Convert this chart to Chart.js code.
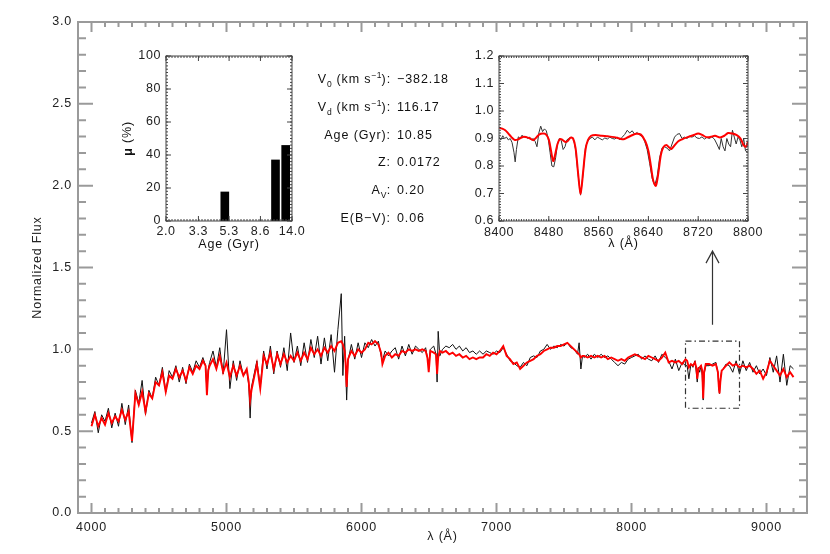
<!DOCTYPE html>
<html>
<head>
<meta charset="utf-8">
<script src="https://cdn.jsdelivr.net/npm/chart.js@4.4.0/dist/chart.umd.min.js"></script>
<style>
  html, body { margin: 0; padding: 0; background: #fff; }
  #wrap { position: relative; width: 830px; height: 554px; overflow: hidden;
          font-family: "Liberation Sans", Arial, sans-serif; }
  canvas { position: absolute; }
  #main { left: 0; top: 0; }
  #ages { left: 100px; top: 40px; }
  #zoom { left: 450px; top: 40px; }
  .plab, .pval { position: absolute; font-size: 12.5px; letter-spacing: 0.9px;
                 line-height: 16px; color: #111; white-space: nowrap; }
  .plab { right: 439px; text-align: right; }
  .pval { left: 397px; }
  .plab sub, .plab sup { font-size: 8.5px; line-height: 0; letter-spacing: 0.2px; }
</style>
</head>
<body>
<div id="wrap">
  <canvas id="main" width="830" height="554"></canvas>
  <canvas id="ages" width="210" height="220"></canvas>
  <canvas id="zoom" width="320" height="220"></canvas>
</div>
<script>
// ---- main spectrum (wavelength in A, normalized flux) ----
const mainWave = [
  4000, 4025, 4050, 4075, 4100, 4125, 4150, 4175,
  4200, 4225, 4250, 4275, 4300, 4325, 4350, 4375,
  4400, 4425, 4450, 4475, 4500, 4525, 4550, 4575,
  4600, 4625, 4650, 4675, 4700, 4725, 4750, 4775,
  4800, 4825, 4845, 4855, 4865, 4875, 4900, 4925, 4950, 4975,
  5000, 5025, 5050, 5075, 5100, 5125, 5150, 5165, 5175, 5185,
  5200, 5225, 5250, 5275, 5300, 5325, 5350, 5375,
  5400, 5425, 5450, 5475, 5500, 5525, 5550, 5575,
  5600, 5625, 5650, 5675, 5700, 5725, 5750, 5775,
  5800, 5825, 5850, 5862, 5875, 5882, 5890, 5900, 5925, 5950, 5975,
  6000, 6025, 6050, 6075, 6100, 6125, 6145, 6155, 6175,
  6200, 6225, 6250, 6275, 6300, 6325, 6350, 6375,
  6400, 6425, 6450, 6475, 6488, 6498, 6510, 6535, 6552, 6560, 6568, 6580,
  6600, 6625, 6650, 6675, 6700, 6725, 6750, 6775,
  6800, 6825, 6850, 6875, 6900, 6925, 6950, 6975,
  7000, 7025, 7050, 7075, 7100, 7125, 7150, 7175,
  7200, 7225, 7250, 7275, 7300, 7325, 7350, 7375,
  7400, 7425, 7450, 7475, 7500, 7525, 7550, 7575,
  7600, 7612, 7625, 7637, 7650, 7675, 7700, 7725, 7750, 7775,
  7800, 7825, 7850, 7875, 7900, 7925, 7950, 7975,
  8000, 8025, 8050, 8075, 8100, 8125, 8150, 8175,
  8200, 8225, 8250, 8275, 8300, 8325, 8350, 8375,
  8400, 8412, 8425, 8440, 8455, 8470, 8480, 8487, 8495, 8505, 8515, 8524, 8531, 8538, 8550, 8575,
  8600, 8625, 8640, 8647, 8652, 8658, 8668, 8680, 8700, 8725, 8750, 8775,
  8800, 8825, 8850, 8875, 8900, 8925, 8950, 8975,
  9000, 9025, 9050, 9075, 9100, 9125, 9150, 9175, 9200
];
// observed (black)
const mainObs = [
  0.55, 0.62, 0.49, 0.60, 0.56, 0.64, 0.52, 0.61,
  0.53, 0.67, 0.54, 0.66, 0.43, 0.75, 0.67, 0.81,
  0.60, 0.75, 0.70, 0.83, 0.78, 0.89, 0.74, 0.87,
  0.83, 0.90, 0.80, 0.89, 0.79, 0.91, 0.86, 0.93,
  0.89, 0.95, 0.90, 0.74, 0.88, 0.92, 0.99, 0.89, 1.01, 0.85,
  1.12, 0.76, 0.93, 0.81, 0.93, 0.84, 0.87, 0.78, 0.58, 0.77,
  0.83, 0.93, 0.77, 0.99, 0.88, 1.02, 0.85, 0.99,
  0.89, 1.01, 0.87, 1.10, 0.92, 1.02, 0.90, 1.04,
  0.92, 1.06, 0.95, 1.08, 0.91, 1.07, 0.93, 1.09,
  0.86, 1.12, 1.34, 0.84, 1.08, 0.90, 0.69, 0.93, 1.03, 0.94, 1.04,
  0.95, 1.04, 1.01, 1.06, 1.02, 1.05, 0.96, 0.93, 0.99,
  0.96, 0.99, 1.01, 0.94, 1.02, 0.96, 1.03, 0.97,
  1.02, 1.00, 0.98, 1.01, 0.95, 0.91, 1.00, 1.02, 0.97, 0.80, 1.11, 0.96,
  1.00, 1.02, 1.01, 1.03, 1.00, 1.02, 0.99, 1.01,
  0.98, 0.99, 0.97, 0.99, 0.97, 0.99, 0.98, 0.97,
  0.99, 0.98, 1.01, 0.97, 0.93, 0.92, 0.90, 0.89,
  0.92, 0.90, 0.95, 0.96, 0.95, 0.99, 1.00, 1.03,
  1.00, 1.02, 1.01, 1.03, 1.02, 1.04, 1.01, 1.00,
  0.97, 1.04, 0.88, 0.96, 0.95, 0.97, 0.94, 0.97, 0.95, 0.97,
  0.95, 0.96, 0.94, 0.92, 0.90, 0.92, 0.91, 0.94,
  0.95, 0.96, 0.97, 0.94, 0.96, 0.94, 0.93, 0.96,
  0.92, 0.97, 0.95, 0.93, 0.88, 0.94, 0.87, 0.92,
  0.90, 0.90, 0.82, 0.91, 0.89, 0.93, 0.86, 0.80, 0.89, 0.86, 0.90, 0.84, 0.69, 0.85, 0.90, 0.90,
  0.91, 0.92, 0.86, 0.76, 0.73, 0.82, 0.87, 0.88, 0.91, 0.90, 0.86, 0.93,
  0.85, 0.93, 0.87, 0.92, 0.86, 0.90, 0.85, 0.88,
  0.84, 0.95, 0.86, 0.96, 0.80, 0.97, 0.78, 0.90, 0.88
];
// best-fit model (red)
const mainFit = [
  0.53, 0.60, 0.53, 0.58, 0.54, 0.61, 0.55, 0.59,
  0.56, 0.63, 0.57, 0.62, 0.44, 0.73, 0.66, 0.74,
  0.62, 0.73, 0.70, 0.80, 0.78, 0.86, 0.74, 0.84,
  0.82, 0.88, 0.83, 0.87, 0.81, 0.89, 0.85, 0.90,
  0.88, 0.93, 0.90, 0.72, 0.87, 0.90, 0.94, 0.88, 0.96, 0.86,
  0.92, 0.83, 0.90, 0.84, 0.90, 0.84, 0.88, 0.80, 0.69, 0.75,
  0.81, 0.91, 0.76, 0.96, 0.91, 0.98, 0.88, 0.97,
  0.91, 0.97, 0.92, 0.96, 0.93, 0.98, 0.93, 0.98,
  0.94, 1.01, 0.97, 1.00, 0.96, 1.01, 0.98, 1.02,
  0.99, 1.04, 1.05, 1.03, 0.99, 0.92, 0.77, 0.94, 0.99, 0.96, 1.00,
  0.98, 1.00, 1.04, 1.03, 1.05, 1.03, 0.98, 0.91, 0.96,
  0.98, 0.95, 0.97, 0.96, 0.99, 0.98, 1.00, 0.99,
  1.00, 0.99, 1.00, 0.99, 0.95, 0.86, 0.99, 0.98, 0.97, 0.85, 0.95, 0.99,
  0.98, 0.99, 0.97, 0.98, 0.96, 0.97, 0.95, 0.96,
  0.94, 0.95, 0.94, 0.95, 0.95, 0.97, 0.96, 0.98,
  0.97, 0.99, 1.02, 0.96, 0.94, 0.91, 0.92, 0.88,
  0.90, 0.92, 0.93, 0.94, 0.96, 0.97, 0.99, 1.00,
  1.01, 1.01, 1.02, 1.02, 1.03, 1.04, 1.02, 1.00,
  0.98, 0.97, 0.95, 0.96, 0.96, 0.95, 0.96, 0.95, 0.96, 0.95,
  0.96, 0.94, 0.95, 0.94, 0.93, 0.94, 0.93, 0.95,
  0.96, 0.97, 0.96, 0.95, 0.94, 0.96, 0.95, 0.94,
  0.93, 0.95, 0.98, 0.92, 0.93, 0.92, 0.93, 0.91,
  0.94, 0.93, 0.89, 0.91, 0.90, 0.92, 0.89, 0.82, 0.88, 0.89, 0.90, 0.87, 0.70, 0.86, 0.91, 0.91,
  0.90, 0.91, 0.86, 0.77, 0.73, 0.80, 0.87, 0.88, 0.90, 0.92, 0.90, 0.91,
  0.89, 0.90, 0.89, 0.90, 0.88, 0.85, 0.87, 0.82,
  0.86, 0.93, 0.90, 0.87, 0.84, 0.88, 0.83, 0.86, 0.83
];
const mainXTicks = [4000, 5000, 6000, 7000, 8000, 9000];
const mainYTicks = [0.0, 0.5, 1.0, 1.5, 2.0, 2.5, 3.0];

// ---- age distribution inset ----
const ageGyr  = [4.96, 10.85, 12.70];
const massPct = [17.6, 37.0, 45.8];
const ageTicks = [2.0, 3.3, 5.3, 8.6, 14.0];
const pctTicks = [0, 20, 40, 60, 80, 100];

// ---- Ca triplet zoom inset ----
const zoomFitWave = [
  8400, 8405, 8410, 8415, 8420, 8425, 8430, 8435, 8440, 8445, 8450, 8455, 8460, 8465, 8470, 8475, 8480,
  8484, 8487, 8490, 8494, 8498, 8502, 8506, 8510,
  8515, 8519, 8523, 8527, 8531, 8535, 8539, 8543,
  8548, 8555, 8565, 8575, 8585, 8595, 8600, 8605,
  8612, 8620, 8628, 8635, 8640, 8644, 8648, 8652,
  8656, 8660, 8664, 8669, 8673, 8677, 8682, 8688,
  8695, 8703, 8712, 8720, 8727, 8733, 8740, 8747,
  8755, 8762, 8768, 8775, 8782, 8788, 8793, 8797,
  8800
];
const zoomFitFlux = [
  0.940, 0.936, 0.930, 0.918, 0.905, 0.895, 0.896, 0.902, 0.906, 0.904, 0.900, 0.894, 0.904, 0.915, 0.918, 0.916, 0.896,
  0.850, 0.818, 0.840, 0.880, 0.898, 0.895, 0.888, 0.890,
  0.903, 0.900, 0.865, 0.775, 0.697, 0.775, 0.860, 0.895,
  0.910, 0.913, 0.910, 0.908, 0.905, 0.899, 0.897, 0.902,
  0.910, 0.917, 0.914, 0.890, 0.855, 0.800, 0.745, 0.728,
  0.775, 0.840, 0.868, 0.876, 0.868, 0.862, 0.875, 0.890,
  0.898, 0.905, 0.912, 0.918, 0.912, 0.905, 0.906, 0.910,
  0.904, 0.910, 0.920, 0.918, 0.912, 0.900, 0.876, 0.870,
  0.890
];
const zoomObsWave = [
  8400, 8403, 8406, 8409, 8412, 8415, 8418, 8421, 8424, 8426,
  8428, 8431, 8434, 8437, 8440, 8443, 8446, 8449, 8452, 8455,
  8458, 8461, 8464, 8467, 8470, 8473, 8476, 8479, 8482, 8485,
  8488, 8491, 8494, 8497, 8500, 8503, 8506, 8509, 8512, 8516,
  8520, 8523, 8527, 8531, 8535, 8539, 8542, 8546, 8550, 8554,
  8558, 8562, 8566, 8570, 8574, 8578, 8582, 8586, 8590, 8594,
  8598, 8602, 8606, 8610, 8614, 8618, 8622, 8626, 8630, 8634,
  8638, 8642, 8646, 8650, 8654, 8658, 8662, 8666, 8670, 8674,
  8678, 8682, 8686, 8690, 8694, 8698, 8702, 8706, 8710, 8714,
  8718, 8722, 8726, 8730, 8734, 8738, 8742, 8746, 8750, 8754,
  8757, 8760, 8763, 8766, 8769, 8772, 8775, 8778, 8781, 8784,
  8787, 8790, 8793, 8796, 8800
];
const zoomObsFlux = [
  0.905, 0.895, 0.910, 0.900, 0.905, 0.895, 0.900, 0.885, 0.850, 0.815,
  0.860, 0.906, 0.900, 0.912, 0.905, 0.908, 0.900, 0.905, 0.895, 0.900,
  0.890, 0.870, 0.920, 0.945, 0.925, 0.935, 0.928, 0.900, 0.850, 0.800,
  0.797, 0.830, 0.880, 0.900, 0.892, 0.860, 0.870, 0.895, 0.900, 0.905,
  0.895, 0.860, 0.770, 0.694, 0.770, 0.870, 0.888, 0.900, 0.905, 0.895,
  0.905, 0.900, 0.895, 0.902, 0.898, 0.905, 0.900, 0.898, 0.905, 0.895,
  0.905, 0.915, 0.930, 0.920, 0.928, 0.915, 0.922, 0.912, 0.908, 0.890,
  0.860, 0.810, 0.755, 0.730, 0.760, 0.830, 0.866, 0.870, 0.865, 0.855,
  0.880, 0.905, 0.915, 0.918, 0.900, 0.905, 0.900, 0.908, 0.905, 0.910,
  0.902, 0.900, 0.906, 0.898, 0.904, 0.900, 0.906, 0.898, 0.880, 0.860,
  0.900, 0.870, 0.855, 0.900, 0.880, 0.870, 0.930, 0.905, 0.880, 0.905,
  0.895, 0.870, 0.900, 0.855, 0.850
];
const zoomXTicks = [8400, 8480, 8560, 8640, 8720, 8800];
const zoomYTicks = [0.6, 0.7, 0.8, 0.9, 1.0, 1.1, 1.2];

// fit parameters text
const paramLabels = ['V<sub>0</sub> (km s<sup>\u22121</sup>):', 'V<sub>d</sub> (km s<sup>\u22121</sup>):',
                     'Age (Gyr):', 'Z:', 'A<sub>V</sub>:', 'E(B\u2212V):'];
const paramValues = ['\u2212382.18', '116.17', '10.85', '0.0172', '0.20', '0.06'];

const FONT = '"Liberation Sans", Arial, sans-serif';

function pts(xs, ys) { return xs.map((x, i) => ({ x: x, y: ys[i] })); }
function range(a, b, step) { const out = []; for (let v = a; v <= b + 1e-9; v += step) out.push(+v.toFixed(4)); return out; }

// IDL-like box frame with inward ticks on all four sides
function frameTicks(o) {
  return {
    id: 'frameTicks',
    beforeDraw(chart) { chart.ctx.letterSpacing = o.spacing || '0px'; },
    afterDatasetsDraw(chart) {
      const { ctx, chartArea: a, scales: { x, y } } = chart;
      ctx.save();
      ctx.strokeStyle = o.color;
      ctx.lineWidth = o.width;
      ctx.strokeRect(a.left, a.top, a.right - a.left, a.bottom - a.top);
      ctx.beginPath();
      const vt = (v, len) => { const p = x.getPixelForValue(v);
        ctx.moveTo(p, a.bottom); ctx.lineTo(p, a.bottom - len);
        ctx.moveTo(p, a.top); ctx.lineTo(p, a.top + len); };
      const ht = (v, len) => { const p = y.getPixelForValue(v);
        ctx.moveTo(a.left, p); ctx.lineTo(a.left + len, p);
        ctx.moveTo(a.right, p); ctx.lineTo(a.right - len, p); };
      o.xMinor.forEach(v => vt(v, o.xLen[1]));
      o.xMajor.forEach(v => vt(v, o.xLen[0]));
      o.yMinor.forEach(v => ht(v, o.yLen[1]));
      o.yMajor.forEach(v => ht(v, o.yLen[0]));
      ctx.lineWidth = o.tickWidth;
      ctx.stroke();
      ctx.restore();
    }
  };
}

function axisOpts(min, max, ticks, fmt, fit, pad, type) {
  return {
    type: type || 'linear', min: min, max: max, offset: false,
    afterBuildTicks: s => { s.ticks = ticks.map(v => ({ value: v })); },
    afterFit: fit,
    grid: { display: false, drawTicks: false }, border: { display: false },
    ticks: { autoSkip: false, maxRotation: 0, padding: pad, color: '#222',
             font: { family: FONT, size: 12.5 }, callback: fmt }
  };
}

// ---------- main chart ----------
const boxLam = [8400, 8800], boxFlux = [0.64, 1.05];
const arrowLam = 8600, arrowFlux = [1.15, 1.60];

const mainDecor = {
  id: 'mainDecor',
  afterDraw(chart) {
    const { ctx, chartArea: a, scales: { x, y } } = chart;
    ctx.save();
    ctx.letterSpacing = '0.8px';
    ctx.fillStyle = '#222';
    ctx.font = '12.5px ' + FONT;
    ctx.textAlign = 'center';
    ctx.textBaseline = 'middle';
    ctx.fillText('\u03bb (\u00c5)', (a.left + a.right) / 2, 537);
    ctx.translate(38, (a.top + a.bottom) / 2);
    ctx.rotate(-Math.PI / 2);
    ctx.fillText('Normalized Flux', 0, 0);
    ctx.restore();

    ctx.save();
    ctx.strokeStyle = '#333';
    ctx.lineWidth = 1.2;
    ctx.setLineDash([6, 3, 1.5, 3]);
    const bx0 = x.getPixelForValue(boxLam[0]), bx1 = x.getPixelForValue(boxLam[1]);
    const by0 = y.getPixelForValue(boxFlux[1]), by1 = y.getPixelForValue(boxFlux[0]);
    ctx.strokeRect(bx0, by0, bx1 - bx0, by1 - by0);
    ctx.setLineDash([]);
    const ax = x.getPixelForValue(arrowLam);
    const ayb = y.getPixelForValue(arrowFlux[0]), ayt = y.getPixelForValue(arrowFlux[1]);
    ctx.beginPath();
    ctx.moveTo(ax, ayb); ctx.lineTo(ax, ayt);
    ctx.moveTo(ax - 6.5, ayt + 12); ctx.lineTo(ax, ayt); ctx.lineTo(ax + 6.5, ayt + 12);
    ctx.stroke();
    ctx.restore();
  }
};

// red model listed first so Chart.js paints it on top of the black spectrum
new Chart(document.getElementById('main'), {
  type: 'line',
  data: {
    datasets: [
      { data: pts(mainWave, mainFit), borderColor: '#ff0000', borderWidth: 1.9, pointRadius: 0, tension: 0 },
      { data: pts(mainWave, mainObs), borderColor: '#111', borderWidth: 1, pointRadius: 0, tension: 0 }
    ]
  },
  options: {
    responsive: false, animation: false, devicePixelRatio: 1,
    layout: { padding: { top: 22, right: 23, left: 0, bottom: 0 } },
    plugins: { legend: { display: false }, tooltip: { enabled: false } },
    scales: {
      x: axisOpts(3900, 9300, mainXTicks, v => String(v), s => { s.height = 41; }, 7),
      y: axisOpts(0, 3, mainYTicks, v => v.toFixed(1), s => { s.width = 78; }, 6)
    }
  },
  plugins: [frameTicks({
    color: '#9a9a9a', width: 2, tickWidth: 2, spacing: '0.8px',
    xMajor: mainXTicks, xMinor: range(4000, 9300, 100), xLen: [10, 5],
    yMajor: mainYTicks, yMinor: range(0, 3, 0.1), yLen: [15, 8]
  }), mainDecor]
});

// ---------- age histogram inset ----------
const agesTitles = {
  id: 'agesTitles',
  afterDraw(chart) {
    const { ctx, chartArea: a } = chart;
    ctx.save();
    ctx.letterSpacing = '0.8px';
    ctx.fillStyle = '#111';
    ctx.textBaseline = 'middle';
    ctx.textAlign = 'center';
    ctx.font = '12.5px ' + FONT;
    ctx.fillText('Age (Gyr)', (a.left + a.right) / 2, 205);
    ctx.translate(28, (a.top + a.bottom) / 2);
    ctx.rotate(-Math.PI / 2);
    ctx.textAlign = 'left';
    const rest = ' (%)';
    ctx.font = 'bold 13px ' + FONT;
    const wMu = ctx.measureText('\u03bc').width;
    ctx.font = '12.5px ' + FONT;
    const wRest = ctx.measureText(rest).width;
    const x0 = -(wMu + wRest) / 2;
    ctx.font = 'bold 13px ' + FONT;
    ctx.fillText('\u03bc', x0, 0);
    ctx.font = '12.5px ' + FONT;
    ctx.fillText(rest, x0 + wMu, 0);
    ctx.restore();
  }
};

const logMinor = [];
for (let k = 0; k <= 42; k++) logMinor.push(Math.pow(10, Math.log10(2) + k * Math.log10(7) / 42));

new Chart(document.getElementById('ages'), {
  type: 'bar',
  data: { datasets: [{ data: pts(ageGyr, massPct), backgroundColor: '#000', borderWidth: 0, barThickness: 8 }] },
  options: {
    responsive: false, animation: false, devicePixelRatio: 1,
    layout: { padding: { top: 16, right: 18, left: 0, bottom: 0 } },
    plugins: { legend: { display: false }, tooltip: { enabled: false } },
    scales: {
      x: axisOpts(2, 14, ageTicks, v => v.toFixed(1), s => { s.height = 39; }, 3, 'logarithmic'),
      y: axisOpts(0, 100, pctTicks, v => String(v), s => { s.width = 66; }, 5)
    }
  },
  plugins: [frameTicks({
    color: '#444', width: 1, tickWidth: 1, spacing: '0.6px',
    xMajor: ageTicks, xMinor: logMinor, xLen: [5, 2],
    yMajor: pctTicks, yMinor: range(0, 100, 2), yLen: [5, 2]
  }), agesTitles]
});

// ---------- Ca triplet zoom inset ----------
const zoomTitles = {
  id: 'zoomTitles',
  afterDraw(chart) {
    const { ctx, chartArea: a } = chart;
    ctx.save();
    ctx.letterSpacing = '0.8px';
    ctx.fillStyle = '#111';
    ctx.textBaseline = 'middle';
    ctx.textAlign = 'center';
    ctx.font = '12.5px ' + FONT;
    ctx.fillText('\u03bb (\u00c5)', (a.left + a.right) / 2, 204);
    ctx.restore();
  }
};

new Chart(document.getElementById('zoom'), {
  type: 'line',
  data: {
    datasets: [
      { data: pts(zoomFitWave, zoomFitFlux), borderColor: '#ff0000', borderWidth: 2, pointRadius: 0, tension: 0.3 },
      { data: pts(zoomObsWave, zoomObsFlux), borderColor: '#333', borderWidth: 1, pointRadius: 0, tension: 0 }
    ]
  },
  options: {
    responsive: false, animation: false, devicePixelRatio: 1,
    layout: { padding: { top: 16, right: 22, left: 0, bottom: 0 } },
    plugins: { legend: { display: false }, tooltip: { enabled: false } },
    scales: {
      x: axisOpts(8400, 8800, zoomXTicks, v => String(v), s => { s.height = 39; }, 4),
      y: axisOpts(0.6, 1.2, zoomYTicks, v => v.toFixed(1), s => { s.width = 49; }, 5)
    }
  },
  plugins: [frameTicks({
    color: '#444', width: 1, tickWidth: 1, spacing: '0.6px',
    xMajor: zoomXTicks, xMinor: range(8400, 8800, 4), xLen: [5, 2],
    yMajor: zoomYTicks, yMinor: range(0.6, 1.2, 0.01), yLen: [5, 2]
  }), zoomTitles]
});

// ---------- fit parameters ----------
const wrap = document.getElementById('wrap');
paramLabels.forEach((lab, i) => {
  const top = (71 + i * 27.8) + 'px';
  const l = document.createElement('div');
  l.className = 'plab'; l.style.top = top; l.innerHTML = lab;
  const v = document.createElement('div');
  v.className = 'pval'; v.style.top = top; v.textContent = paramValues[i];
  wrap.appendChild(l); wrap.appendChild(v);
});
</script>
</body>
</html>
